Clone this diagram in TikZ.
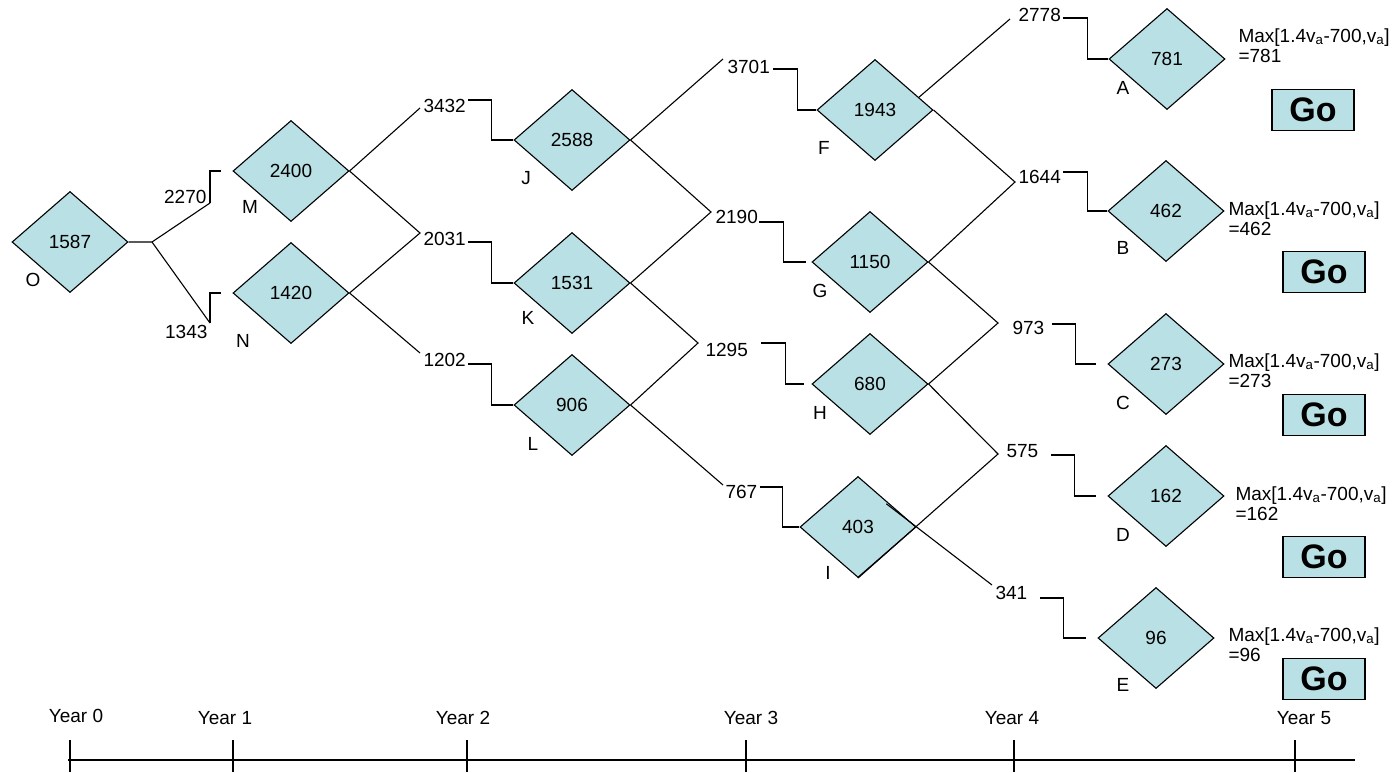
\documentclass[tikz,border=0pt]{standalone}
\usepackage{fontspec}
\setmainfont{Liberation Sans}
\usetikzlibrary{positioning, shapes.geometric, calc}
\definecolor{nodeblue}{RGB}{185,224,228}

\begin{document}
\begin{tikzpicture}[x=1pt, y=-1pt, line width=1.1pt,
    valnode/.style={draw, diamond, fill=nodeblue, minimum width=116pt, minimum height=101pt, inner sep=0pt, font=\fontsize{19}{21}\selectfont},
    numtext/.style={inner sep=0pt, font=\fontsize{19}{21}\selectfont},
    gobox/.style={draw, fill=nodeblue, minimum width=82pt, minimum height=41pt, inner sep=0pt, font=\fontsize{34}{38}\selectfont\bfseries},
    maxtext/.style={inner sep=0pt, anchor=north west, align=left, font=\fontsize{19}{20}\selectfont}]
    \useasboundingbox (0,0) rectangle (1397,772);

    % Year 0
    \node[valnode] (O) at (70,242) {1587};
    \node[numtext] (lO) at (33,280) {O};

    % Year 1
    \node[valnode] (M) at (291,171) {2400};
    \node[valnode] (N) at (291,293) {1420};
    \node[numtext] (lM) at (250,207) {M};
    \node[numtext] (lN) at (243,341) {N};

    % Year 2
    \node[valnode] (J) at (572,140) {2588};
    \node[valnode] (K) at (572,283) {1531};
    \node[valnode] (L) at (572,405) {906};
    \node[numtext] (lJ) at (526,178) {J};
    \node[numtext] (lK) at (528,318) {K};
    \node[numtext] (lL) at (533,444) {L};

    % Year 3
    \node[valnode] (F) at (875,110) {1943};
    \node[valnode] (G) at (870,262) {1150};
    \node[valnode] (H) at (870,384) {680};
    \node[valnode] (I) at (858,527) {403};
    \node[numtext] (lF) at (824,148) {F};
    \node[numtext] (lG) at (820,291) {G};
    \node[numtext] (lH) at (820,413) {H};
    \node[numtext] (lI) at (828,573) {I};

    % Year 4
    \node[valnode] (A) at (1167,59) {781};
    \node[valnode] (B) at (1166,211) {462};
    \node[valnode] (C) at (1166,364) {273};
    \node[valnode] (D) at (1166,496) {162};
    \node[valnode] (E) at (1156,638) {96};
    \node[numtext] (lA) at (1123,88) {A};
    \node[numtext] (lB) at (1123,248) {B};
    \node[numtext] (lC) at (1123,403) {C};
    \node[numtext] (lD) at (1123,535) {D};
    \node[numtext] (lE) at (1123,685) {E};

    % Values
    \node[numtext, anchor=east] (v2270) at (207,197) {2270};
    \node[numtext, anchor=east] (v1343) at (208,332) {1343};
    \node[numtext, anchor=west] (v3432) at (423,106) {3432};
    \node[numtext, anchor=west] (v2031) at (423,239) {2031};
    \node[numtext, anchor=west] (v1202) at (423,360) {1202};
    \node[numtext, anchor=west] (v3701) at (727,67) {3701};
    \node[numtext, anchor=west] (v2190) at (715,217) {2190};
    \node[numtext, anchor=west] (v1295) at (705,350) {1295};
    \node[numtext, anchor=west] (v767) at (725,492) {767};
    \node[numtext, anchor=west] (v2778) at (1018,15) {2778};
    \node[numtext, anchor=west] (v1644) at (1018,177) {1644};
    \node[numtext, anchor=west] (v973) at (1012,328) {973};
    \node[numtext, anchor=west] (v575) at (1006,451) {575};
    \node[numtext, anchor=west] (v341) at (995,593) {341};

    \coordinate (fork) at (152,242);
    \coordinate (pM) at (210,203);
    \coordinate (pN) at (210,323);
    \coordinate (p3432) at (420,108);
    \coordinate (p2031) at (420,233);
    \coordinate (p1202) at (420,353);
    \coordinate (p3701) at (723,59);
    \coordinate (p2190) at (711,212);
    \coordinate (p1295) at (698,343);
    \coordinate (p767) at (723,485);
    \coordinate (p2778) at (1010,19);
    \coordinate (p1644) at (1015,182);
    \coordinate (p973) at (998,323);
    \coordinate (p575) at (998,454);
    \coordinate (p341) at (992,585);

    % Branches
    \draw (O.east) -- (fork) -- (pM);
    \draw (fork) -- (pN);
    \draw (p3432) -- (M.east) -- (p2031) -- (N.east) -- (p1202);
    \draw (p3701) -- (J.east) -- (p2190) -- (K.east) -- (p1295) -- (L.east) -- (p767);
    \draw (p2778) -- ($(F.east)!0.25!(F.north)$);
    \draw (F.east) -- (p1644) -- (G.east) -- (p973) -- (H.east) -- (p575) -- (I.south);
    \draw (p341) -- ($(I.east)!-0.4!(p341)$);

    % Steps into the nodes
    \draw (pM) |- ([xshift=-11pt]M.west);
    \draw (pN) |- ([xshift=-11pt]N.west);
    \draw ([shift={(2,-6)}]v3432.east) -- ++(23,0) |- (J.west);
    \draw ([shift={(2,3)}]v2031.east) -- ++(23,0) |- (K.west);
    \draw ([shift={(2,4)}]v1202.east) -- ++(23,0) |- (L.west);
    \draw ([shift={(3,2)}]v3701.east) -- ++(24,0) |- (F.west);
    \draw ([shift={(1,5)}]v2190.east) -- ++(24,0) |- ([xshift=-5pt]G.west);
    \draw ([shift={(13,-7)}]v1295.east) -- ++(24,0) |- ([xshift=-7pt]H.west);
    \draw ([shift={(2,-5)}]v767.east) -- ++(23,0) |- (I.west);
    \draw ([shift={(2,3)}]v2778.east) -- ++(24,0) |- (A.west);
    \draw ([shift={(2,-5)}]v1644.east) -- ++(24,0) |- (B.west);
    \draw ([shift={(7,-4)}]v973.east) -- ++(24,0) |- ([xshift=-11pt]C.west);
    \draw ([shift={(12,4)}]v575.east) -- ++(24,0) |- ([xshift=-11pt]D.west);
    \draw ([shift={(12,5)}]v341.east) -- ++(24,0) |- ([xshift=-11pt]E.west);

    % Year 5
    \node[maxtext] (maxA) at (1238,28) {Max[1.4v\textsubscript{a}-700,v\textsubscript{a}]\\=781};
    \node[maxtext] (maxB) at (1228,201) {Max[1.4v\textsubscript{a}-700,v\textsubscript{a}]\\=462};
    \node[maxtext] (maxC) at (1228,353) {Max[1.4v\textsubscript{a}-700,v\textsubscript{a}]\\=273};
    \node[maxtext] (maxD) at (1235,486) {Max[1.4v\textsubscript{a}-700,v\textsubscript{a}]\\=162};
    \node[maxtext] (maxE) at (1228,627) {Max[1.4v\textsubscript{a}-700,v\textsubscript{a}]\\=96};
    \node[gobox] (goA) at (1313,110) {Go};
    \node[gobox] (goB) at (1324,272) {Go};
    \node[gobox] (goC) at (1324,415) {Go};
    \node[gobox] (goD) at (1324,557) {Go};
    \node[gobox] (goE) at (1324,679) {Go};

    % Time line
    \node[numtext] (y0) at (76,716) {Year 0};
    \node[numtext] (y1) at (225,718) {Year 1};
    \node[numtext] (y2) at (463,718) {Year 2};
    \node[numtext] (y3) at (751,718) {Year 3};
    \node[numtext] (y4) at (1012,718) {Year 4};
    \node[numtext] (y5) at (1304,718) {Year 5};
    \draw (68,760) -- (1355,760);
    \draw (70,740) -- (70,772);
    \draw (233,740) -- (233,772);
    \draw (467,740) -- (467,772);
    \draw (746,740) -- (746,772);
    \draw (1014,740) -- (1014,772);
    \draw (1295,740) -- (1295,772);
\end{tikzpicture}
\end{document}
